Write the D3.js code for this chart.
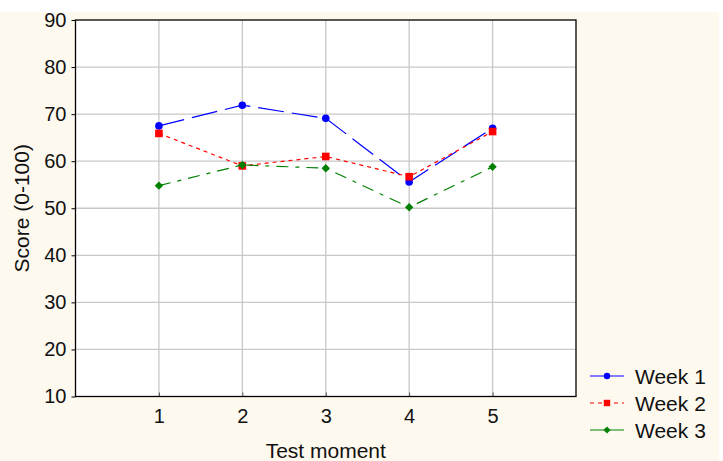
<!DOCTYPE html>
<html>
<head>
<meta charset="utf-8">
<script src="https://cdn.jsdelivr.net/npm/d3@7"></script>
<style>
html,body{margin:0;padding:0;background:#fff;}
svg{display:block;font-family:"Liberation Sans",Arial,sans-serif;}
</style>
</head>
<body>
<svg id="chart" width="723" height="461"></svg>
<script>
const moments = [1, 2, 3, 4, 5];
const week1 = [67.5, 71.9, 69.1, 55.6, 67.0];
const week2 = [65.9, 59.0, 61.0, 56.7, 66.3];
const week3 = [54.8, 59.2, 58.5, 50.2, 58.8];
const yTicks = [10, 20, 30, 40, 50, 60, 70, 80, 90];
const seriesNames = ["Week 1", "Week 2", "Week 3"];

const series = [
  {name: seriesNames[0], values: week1, color: "#0000ff", dash: "26,8", legendDash: null, marker: "circle"},
  {name: seriesNames[1], values: week2, color: "#ff0000", dash: "4,4", legendDash: "4,4", marker: "square"},
  {name: seriesNames[2], values: week3, color: "#008000", dash: "12,7,4,7", legendDash: null, marker: "diamond"}
];

const svg = d3.select("#chart");
// cream background
svg.append("rect").attr("x", 0).attr("y", 12).attr("width", 719).attr("height", 449).attr("fill", "#fdf9ef");

const L = 75.5, R = 576, T = 20, B = 396.5;
const x = d3.scaleLinear().domain([0, 6]).range([L, R]);
const y = d3.scaleLinear().domain([10, 90]).range([B, T]);

svg.append("rect").attr("x", L).attr("y", T).attr("width", R - L).attr("height", B - T).attr("fill", "#fff");

// grid
const grid = svg.append("g").attr("stroke", "#c8c8c8").attr("stroke-width", 1.3);
grid.selectAll("line.h").data(yTicks.slice(1, -1)).join("line")
  .attr("x1", L).attr("x2", R).attr("y1", d => y(d)).attr("y2", d => y(d));
grid.selectAll("line.v").data(moments).join("line")
  .attr("y1", T).attr("y2", B).attr("x1", d => x(d)).attr("x2", d => x(d));

// axes
const yAxis = d3.axisLeft(y).tickValues(yTicks).tickSize(4).tickPadding(5).tickFormat(d3.format("d"));
const gy = svg.append("g").attr("transform", `translate(${L},0)`).call(yAxis);
gy.select(".domain").remove();
gy.selectAll("text").attr("font-size", 20).attr("fill", "#111").attr("font-family", "Liberation Sans, Arial, sans-serif");
gy.selectAll("line").attr("stroke", "#000");

const xAxis = d3.axisBottom(x).tickValues(moments).tickSize(-4).tickPadding(12).tickFormat(d3.format("d"));
const gx = svg.append("g").attr("transform", `translate(0,${B})`).call(xAxis);
gx.select(".domain").remove();
gx.selectAll("text").attr("font-size", 20).attr("fill", "#111").attr("font-family", "Liberation Sans, Arial, sans-serif");
gx.selectAll("line").attr("stroke", "#555");

// frame
svg.append("rect").attr("x", L).attr("y", T).attr("width", R - L).attr("height", B - T)
  .attr("fill", "none").attr("stroke", "#000").attr("stroke-width", 1.3);

// titles
svg.append("text").attr("x", (L + R) / 2).attr("y", 458).attr("text-anchor", "middle")
  .attr("font-size", 21).attr("fill", "#111").text("Test moment");
svg.append("text").attr("transform", `translate(29,${(T + B) / 2}) rotate(-90)`).attr("text-anchor", "middle")
  .attr("font-size", 21).attr("fill", "#111").text("Score (0-100)");

function drawMarker(g, type, cx, cy, s, color) {
  if (type === "circle") {
    g.append("circle").attr("cx", cx).attr("cy", cy).attr("r", s).attr("fill", color);
  } else if (type === "square") {
    g.append("rect").attr("x", cx - s).attr("y", cy - s).attr("width", 2 * s).attr("height", 2 * s).attr("fill", color);
  } else {
    g.append("path").attr("d", `M${cx},${cy - s}L${cx + s},${cy}L${cx},${cy + s}L${cx - s},${cy}Z`).attr("fill", color);
  }
}

const line = d3.line().x((d, i) => x(moments[i])).y(d => y(d));
const sizes = {circle: 3.8, square: 3.8, diamond: 4.2};
series.forEach(s => {
  const g = svg.append("g");
  g.append("path").attr("d", line(s.values)).attr("fill", "none").attr("stroke", s.color)
    .attr("stroke-width", 1.2).attr("stroke-dasharray", s.dash);
  s.values.forEach((v, i) => drawMarker(g, s.marker, x(moments[i]), y(v), sizes[s.marker], s.color));
});

// legend
const legY = [376, 403, 430];
const legSizes = {circle: 3.2, square: 3.2, diamond: 3.5};
series.forEach((s, i) => {
  const g = svg.append("g");
  g.append("line").attr("x1", 590).attr("x2", 624).attr("y1", legY[i]).attr("y2", legY[i])
    .attr("stroke", s.color).attr("stroke-width", 1.2).attr("stroke-dasharray", s.legendDash);
  drawMarker(g, s.marker, 607, legY[i], legSizes[s.marker], s.color);
  g.append("text").attr("x", 635).attr("y", legY[i] + 8).attr("font-size", 21).attr("fill", "#111").text(s.name);
});
</script>
</body>
</html>
